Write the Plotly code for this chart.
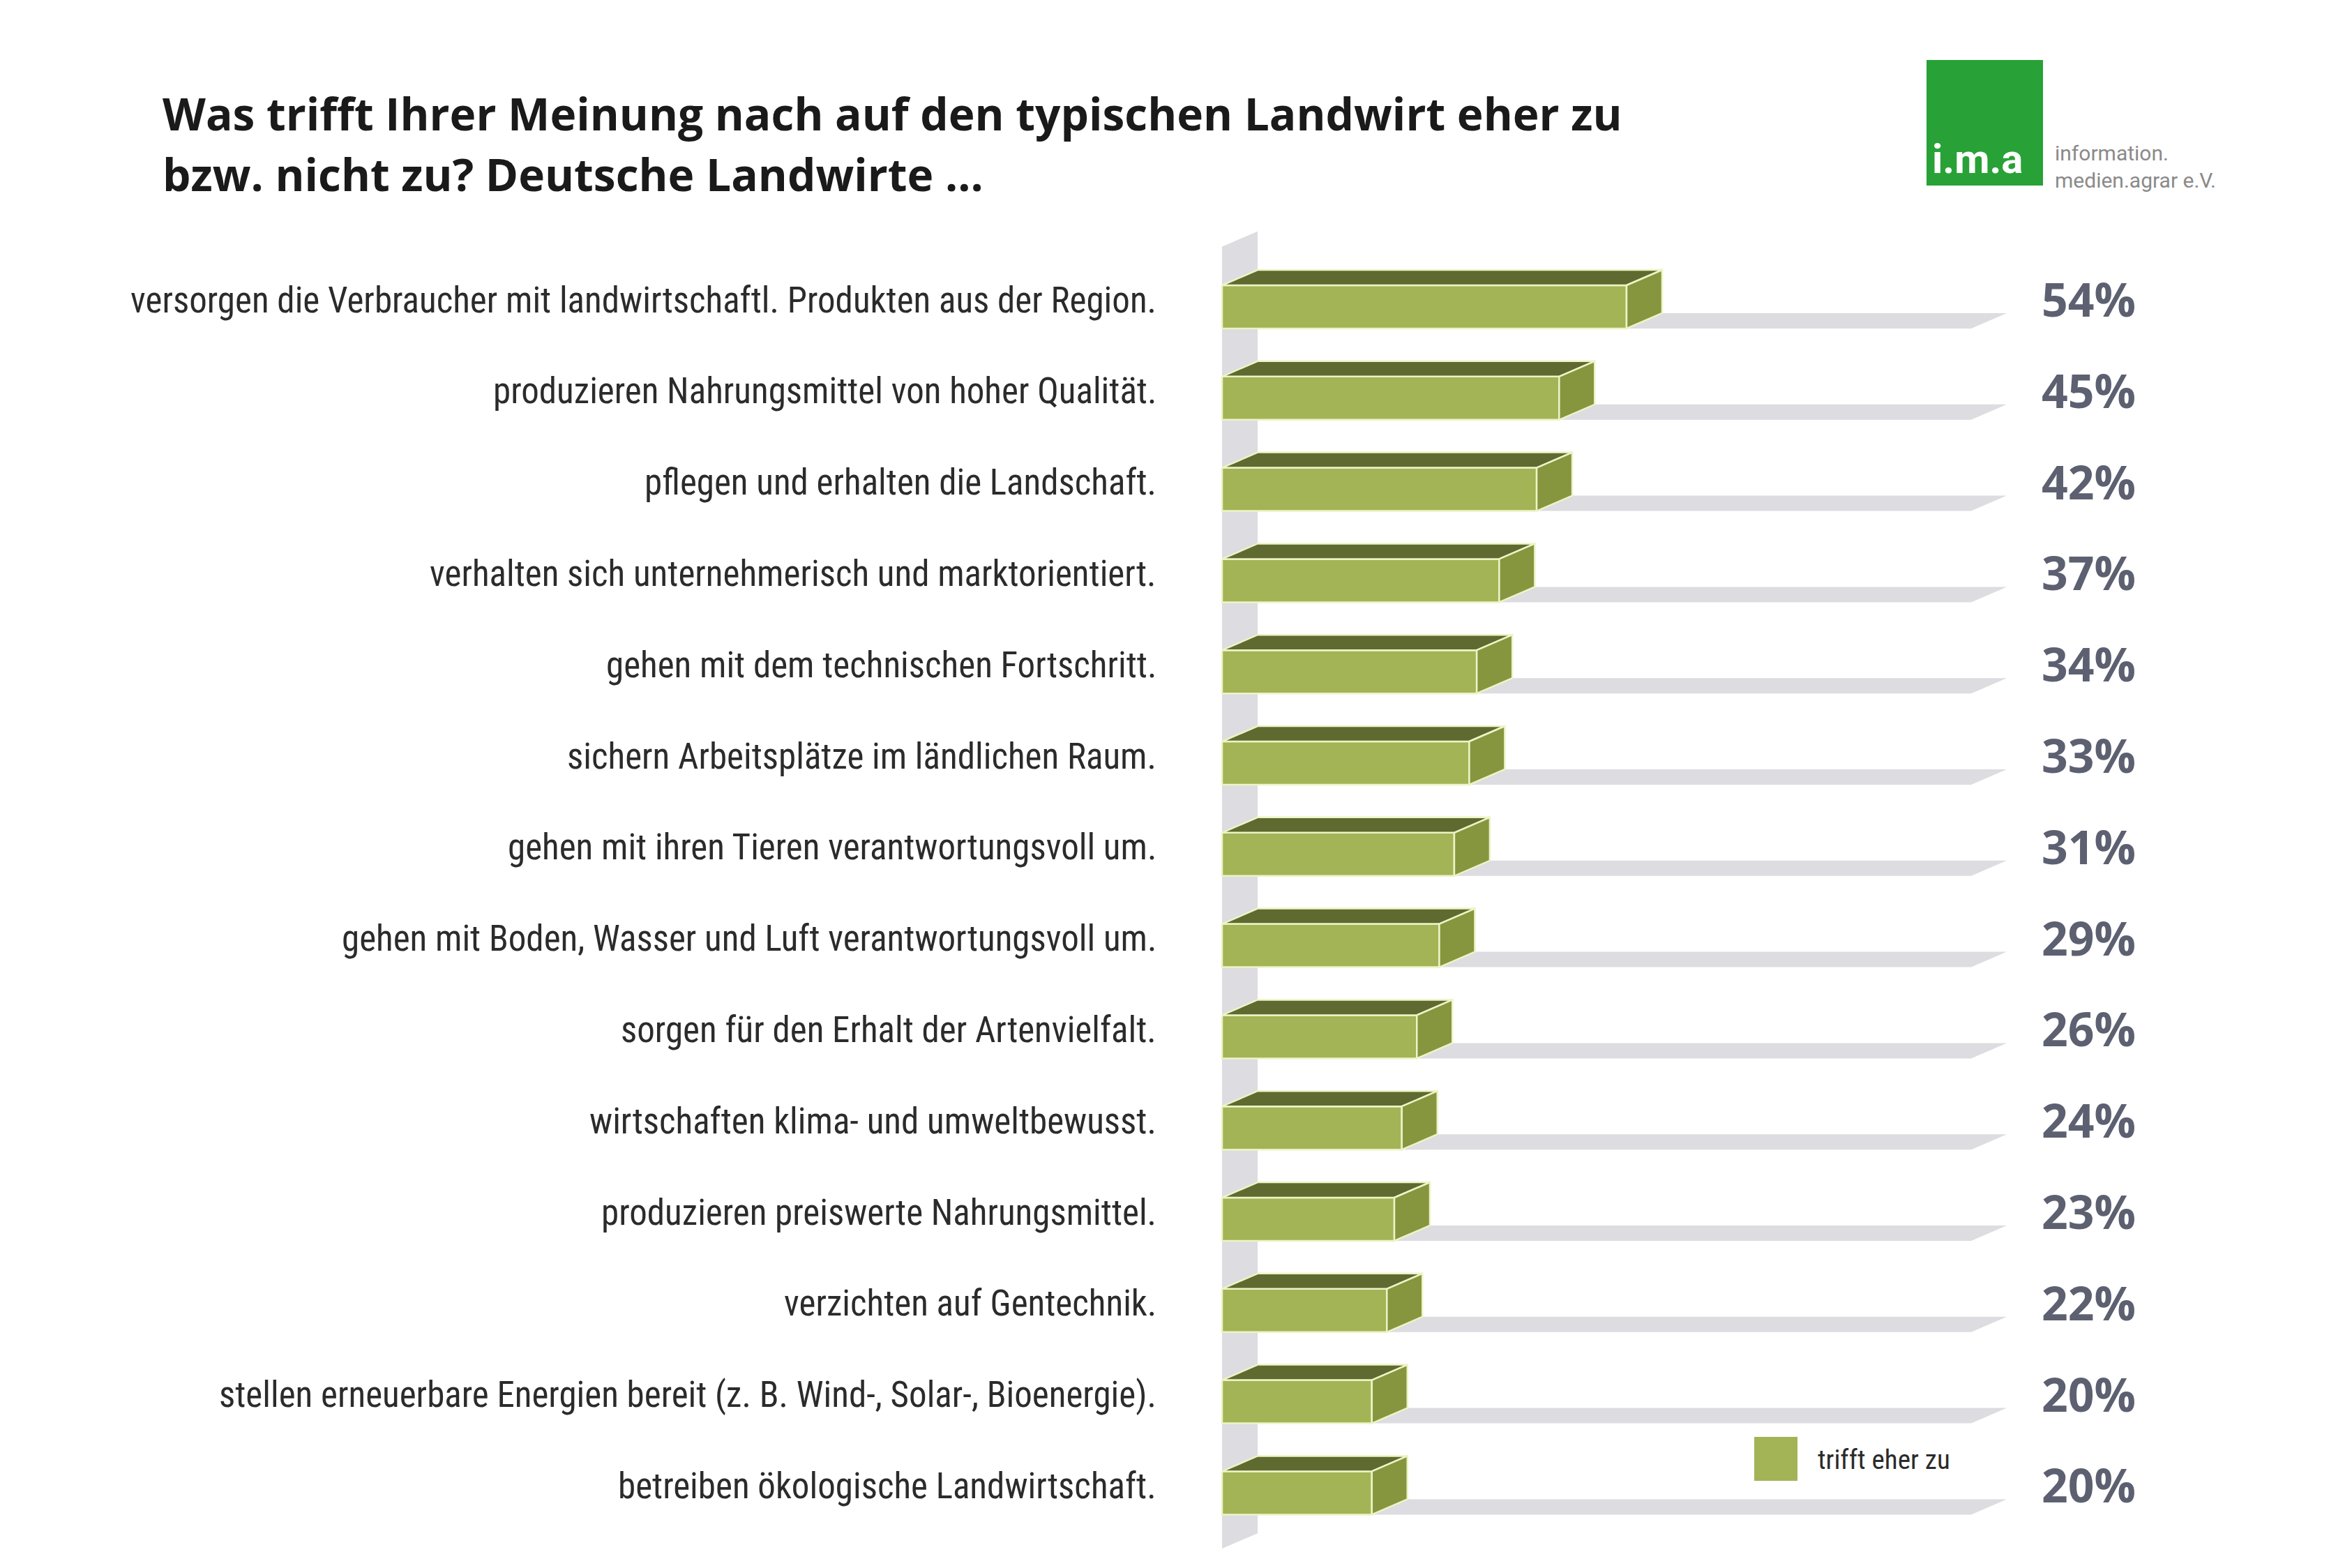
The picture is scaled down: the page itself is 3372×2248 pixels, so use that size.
import plotly.graph_objects as go

# data
categories = [
    "versorgen die Verbraucher mit landwirtschaftl. Produkten aus der Region.",
    "produzieren Nahrungsmittel von hoher Qualität.",
    "pflegen und erhalten die Landschaft.",
    "verhalten sich unternehmerisch und marktorientiert.",
    "gehen mit dem technischen Fortschritt.",
    "sichern Arbeitsplätze im ländlichen Raum.",
    "gehen mit ihren Tieren verantwortungsvoll um.",
    "gehen mit Boden, Wasser und Luft verantwortungsvoll um.",
    "sorgen für den Erhalt der Artenvielfalt.",
    "wirtschaften klima- und umweltbewusst.",
    "produzieren preiswerte Nahrungsmittel.",
    "verzichten auf Gentechnik.",
    "stellen erneuerbare Energien bereit (z. B. Wind-, Solar-, Bioenergie).",
    "betreiben ökologische Landwirtschaft.",
]
values = [54, 45, 42, 37, 34, 33, 31, 29, 26, 24, 23, 22, 20, 20]
value_labels = ["54%", "45%", "42%", "37%", "34%", "33%", "31%", "29%", "26%", "24%", "23%", "22%", "20%", "20%"]
axis_max = 100
legend_name = "trifft eher zu"

TITLE_1 = "Was trifft Ihrer Meinung nach auf den typischen Landwirt eher zu"
TITLE_2 = "bzw. nicht zu? Deutsche Landwirte ..."

# layout config (pixels of the 3372x2248 page)
W, H = 3372, 2248
X0_PX, PX_PER_PCT = 1752, 10.74     # where 0 % sits, pixels per percent
Y0_PX, PX_PER_ROW = 440, 130.8      # centre of first row, pixels per row
DX = 51 / PX_PER_PCT                # 3D depth, x units
DY = 22 / PX_PER_ROW                # 3D depth, y units
HALF = 31 / PX_PER_ROW              # half bar height
WALL_TOP, WALL_BOTTOM = -0.66, 13.61

FRONT = "#a2b456"
TOP = "#5e6a2f"
SIDE = "#86963f"
EDGE = "#eef3c6"
GREY = "#dcdce1"
CAT_FONT = "Liberation Sans Narrow, Roboto Condensed, Arial Narrow, sans-serif"


def px(x):
    return x / W


def py(y):
    return 1 - y / H


def polys(shapes):
    xs, ys = [], []
    for pts in shapes:
        xs += [p[0] for p in pts] + [pts[0][0], None]
        ys += [p[1] for p in pts] + [pts[0][1], None]
    return xs, ys


rows = list(range(len(values)))

wall = [[(0, WALL_BOTTOM), (DX, WALL_BOTTOM - DY), (DX, WALL_TOP - DY), (0, WALL_TOP)]]
floors = [[(0, i + HALF), (axis_max, i + HALF), (axis_max + DX, i + HALF - DY), (DX, i + HALF - DY)] for i in rows]
fronts = [[(0, i - HALF), (v, i - HALF), (v, i + HALF), (0, i + HALF)] for i, v in zip(rows, values)]
tops = [[(0, i - HALF), (v, i - HALF), (v + DX, i - HALF - DY), (DX, i - HALF - DY)] for i, v in zip(rows, values)]
sides = [[(v, i - HALF), (v + DX, i - HALF - DY), (v + DX, i + HALF - DY), (v, i + HALF)] for i, v in zip(rows, values)]

fig = go.Figure()
for shp, color, edge in [(wall, GREY, None), (floors, GREY, None),
                         (fronts, FRONT, EDGE), (tops, TOP, EDGE), (sides, SIDE, EDGE)]:
    xs, ys = polys(shp)
    fig.add_trace(go.Scatter(
        x=xs, y=ys, mode="lines", fill="toself", fillcolor=color,
        line=dict(color=edge if edge else color, width=2.5 if edge else 0),
        hoverinfo="skip", showlegend=False,
    ))

annotations = []
# category labels
for i, c in enumerate(categories):
    annotations.append(dict(x=(1660 - X0_PX) / PX_PER_PCT, y=i, xref="x", yref="y", text=c,
                            xanchor="right", yanchor="middle", yshift=10, showarrow=False,
                            font=dict(family=CAT_FONT, size=51, color="#2b2b2b")))
# percent labels
for i, t in enumerate(value_labels):
    annotations.append(dict(x=(2994 - X0_PX) / PX_PER_PCT, y=i, xref="x", yref="y", text=t,
                            xanchor="center", yanchor="middle", yshift=12, showarrow=False,
                            font=dict(family="Open Sans", size=66, color="#5c6070", weight="bold")))
# title
for txt, yy in [(TITLE_1, 162), (TITLE_2, 249)]:
    annotations.append(dict(x=px(231), y=py(yy), xref="paper", yref="paper", text=txt,
                            xanchor="left", yanchor="middle", showarrow=False,
                            font=dict(family="Open Sans", size=64, color="#1a1a1a", weight="bold")))
# legend
annotations.append(dict(x=px(2604), y=py(2093), xref="paper", yref="paper", text=legend_name,
                        xanchor="left", yanchor="middle", showarrow=False,
                        font=dict(family=CAT_FONT, size=39, color="#2b2b2b")))
# logo
annotations.append(dict(x=px(2768), y=py(228), xref="paper", yref="paper", text="i.m.a",
                        xanchor="left", yanchor="middle", showarrow=False,
                        font=dict(family="Roboto", size=58, color="white", weight="bold")))
annotations.append(dict(x=px(2944), y=py(239), xref="paper", yref="paper",
                        text="information.<br>medien.agrar e.V.",
                        xanchor="left", yanchor="middle", align="left", showarrow=False,
                        font=dict(family="Roboto", size=30, color="#8a8a8a")))

shapes = [
    dict(type="rect", xref="paper", yref="paper", x0=px(2762), x1=px(2929), y0=py(266), y1=py(86),
         fillcolor="#28a236", line=dict(width=0)),
    dict(type="rect", xref="paper", yref="paper", x0=px(2515), x1=px(2577), y0=py(2123), y1=py(2060),
         fillcolor=FRONT, line=dict(width=0)),
]

fig.update_layout(
    width=W, height=H,
    margin=dict(l=0, r=0, t=0, b=0),
    paper_bgcolor="white", plot_bgcolor="white",
    xaxis=dict(range=[-X0_PX / PX_PER_PCT, (W - X0_PX) / PX_PER_PCT], visible=False, fixedrange=True),
    yaxis=dict(range=[(H - Y0_PX) / PX_PER_ROW, -Y0_PX / PX_PER_ROW], visible=False, fixedrange=True),
    annotations=annotations,
    shapes=shapes,
    showlegend=False,
)

# drop the browser's default body margin so the figure sits at the page origin
fig.write_html("out.html", config={"displayModeBar": False},
               post_script="document.body.style.margin='0';")
